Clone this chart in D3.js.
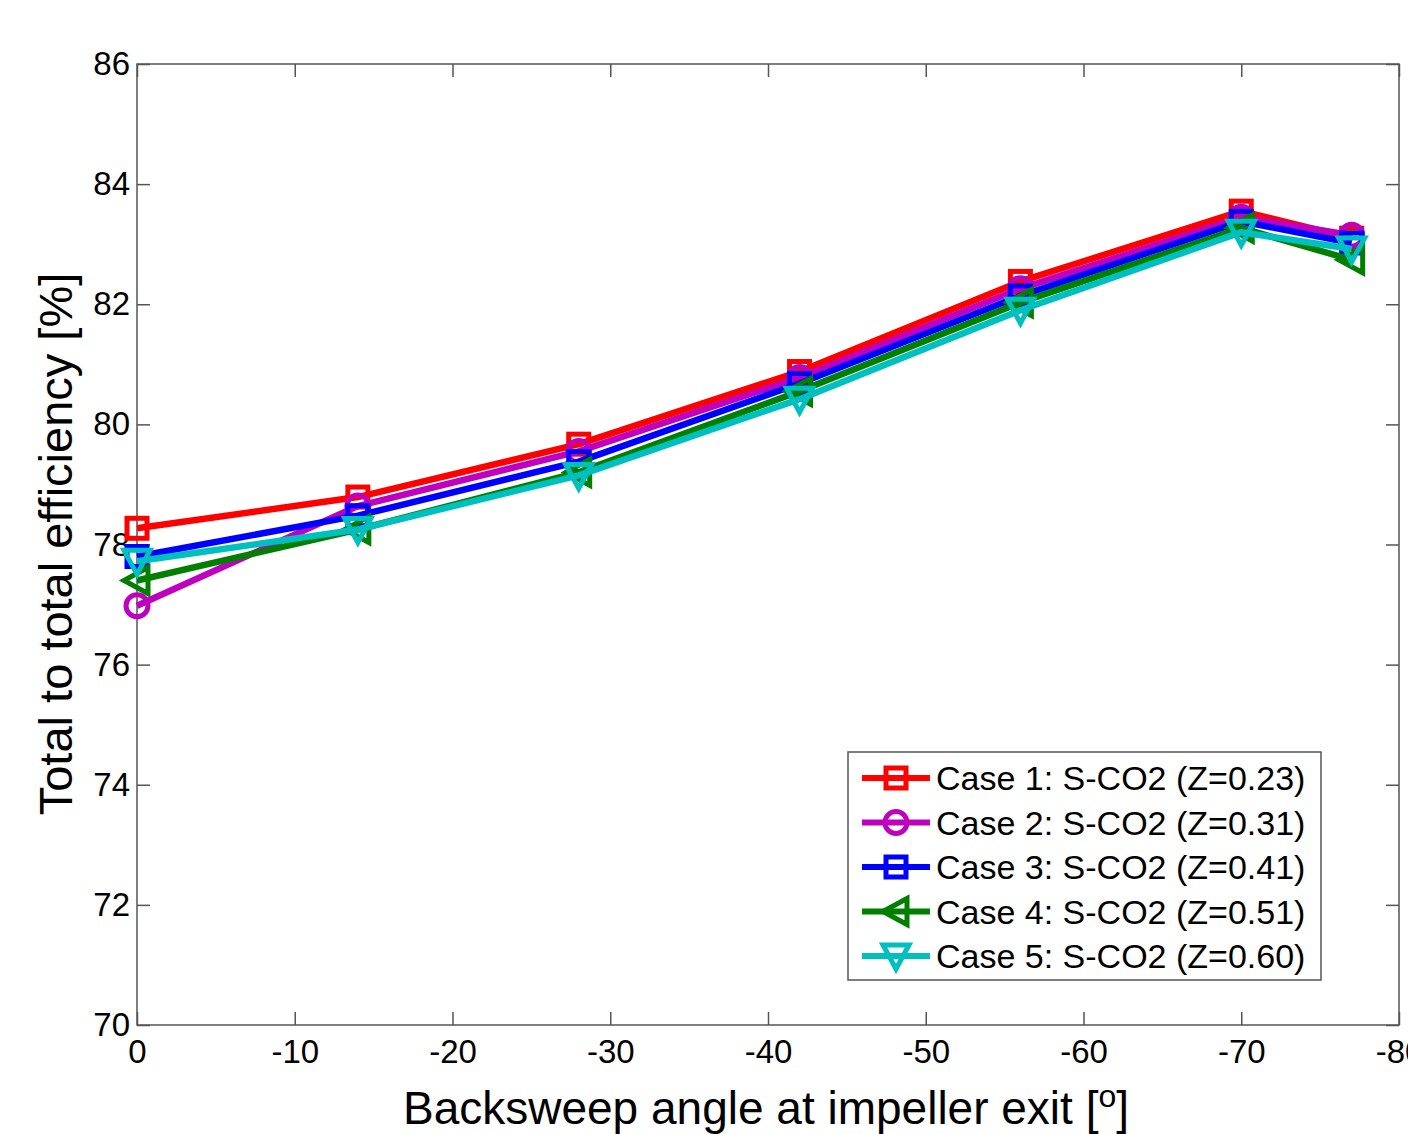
<!DOCTYPE html>
<html>
<head>
<meta charset="utf-8">
<script src="https://cdn.jsdelivr.net/npm/d3@7"></script>
<style>
  body { margin: 0; background: #fff; }
  svg text { font-family: "Liberation Sans", Arial, sans-serif; fill: #000; }
</style>
</head>
<body>
<div id="chart"></div>
<script>
// Data
const angles = [0, -14, -28, -42, -56, -70, -77];
const case1 = [78.27, 78.79, 79.67, 80.88, 82.38, 83.55, 83.1];
const case2 = [76.98, 78.64, 79.55, 80.78, 82.26, 83.45, 83.15];
const case3 = [77.8, 78.48, 79.38, 80.68, 82.14, 83.38, 83.02];
const case4 = [77.4, 78.25, 79.2, 80.55, 82.03, 83.27, 82.74];
const case5 = [77.72, 78.25, 79.15, 80.42, 81.9, 83.2, 82.92];
const seriesNames = ["Case 1: S-CO2 (Z=0.23)", "Case 2: S-CO2 (Z=0.31)", "Case 3: S-CO2 (Z=0.41)",
                     "Case 4: S-CO2 (Z=0.51)", "Case 5: S-CO2 (Z=0.60)"];
const xTicks = [0, -10, -20, -30, -40, -50, -60, -70, -80];
const yTicks = [70, 72, 74, 76, 78, 80, 82, 84, 86];

var W = 1408, H = 1134;
var margin = { top: 64, right: 9, bottom: 109, left: 137 },
    width = W - margin.left - margin.right,
    height = H - margin.top - margin.bottom;

var colors = ["#ff0000", "#bf00bf", "#0000ff", "#007f00", "#00bfbf"];
var shapes = ["square", "circle", "square", "triangleLeft", "triangleDown"];
var allSeries = [case1, case2, case3, case4, case5];

var svg = d3.select("#chart").append("svg")
    .attr("width", W).attr("height", H);
var g = svg.append("g")
    .attr("transform", "translate(" + margin.left + "," + margin.top + ")");

var x = d3.scaleLinear().domain([0, -80]).range([0, width]);
var y = d3.scaleLinear().domain([70, 86]).range([height, 0]);

// box + inward ticks on all four sides
var tickLen = 13;
var plain = d => String(d);   // hyphen, not the unicode minus
function axisStyle(sel) {
    sel.select(".domain").remove();
    sel.selectAll(".tick line").attr("stroke", "#555").attr("stroke-width", 1.5);
    sel.selectAll(".tick text").style("font-size", "33px").attr("font-family", null);
}
g.append("g").attr("transform", "translate(0," + height + ")")
    .call(d3.axisBottom(x).tickValues(xTicks).tickFormat(plain).tickSizeInner(-tickLen).tickSizeOuter(0).tickPadding(15))
    .call(axisStyle);
g.append("g")
    .call(d3.axisTop(x).tickValues(xTicks).tickSizeInner(-tickLen).tickSizeOuter(0).tickFormat(""))
    .call(axisStyle);
g.append("g")
    .call(d3.axisLeft(y).tickValues(yTicks).tickFormat(plain).tickSizeInner(-tickLen).tickSizeOuter(0).tickPadding(7))
    .call(axisStyle);
g.append("g").attr("transform", "translate(" + width + ",0)")
    .call(d3.axisRight(y).tickValues(yTicks).tickSizeInner(-tickLen).tickSizeOuter(0).tickFormat(""))
    .call(axisStyle);

g.append("rect")
    .attr("width", width).attr("height", height)
    .attr("fill", "none").attr("stroke", "#555").attr("stroke-width", 1.5);

// marker drawing
function marker(sel, shape, color) {
    if (shape == "square") {
        sel.append("rect").attr("x", -10).attr("y", -10).attr("width", 20).attr("height", 20)
            .attr("fill", "none").attr("stroke", color).attr("stroke-width", 5);
    } else if (shape == "circle") {
        sel.append("circle").attr("r", 11)
            .attr("fill", "none").attr("stroke", color).attr("stroke-width", 5);
    } else if (shape == "triangleLeft") {
        sel.append("path").attr("d", "M-13,0L11,-13L11,13Z")
            .attr("fill", "none").attr("stroke", color).attr("stroke-width", 5);
    } else {
        sel.append("path").attr("d", "M-13,-11L13,-11L0,13Z")
            .attr("fill", "none").attr("stroke", color).attr("stroke-width", 5);
    }
}

var line = d3.line().x((d, i) => x(angles[i])).y(d => y(d));

allSeries.forEach(function (vals, k) {
    g.append("path")
        .datum(vals)
        .attr("d", line)
        .attr("fill", "none")
        .attr("stroke", colors[k])
        .attr("stroke-width", 6.5)
        .attr("stroke-linejoin", "round");
    vals.forEach(function (v, i) {
        var m = g.append("g").attr("transform", "translate(" + x(angles[i]) + "," + y(v) + ")");
        marker(m, shapes[k], colors[k]);
    });
});

// axis labels
svg.append("text")
    .attr("x", 766).attr("y", 1124)
    .attr("text-anchor", "middle")
    .style("font-size", "46px")
    .html("Backsweep angle at impeller exit [<tspan dy='-17' style='font-size:32px'>o</tspan><tspan dy='17'>]</tspan>");

svg.append("text")
    .attr("transform", "translate(72," + 544 + ") rotate(-90)")
    .attr("text-anchor", "middle")
    .style("font-size", "47px")
    .text("Total to total efficiency [%]");

// legend
var lg = svg.append("g").attr("transform", "translate(848,752)");
lg.append("rect").attr("width", 473).attr("height", 228)
    .attr("fill", "#fff").attr("stroke", "#555").attr("stroke-width", 1.5);
seriesNames.forEach(function (name, k) {
    var row = lg.append("g").attr("transform", "translate(0," + (26 + k * 44.5) + ")");
    row.append("line").attr("x1", 14).attr("x2", 82)
        .attr("stroke", colors[k]).attr("stroke-width", 6);
    var m = row.append("g").attr("transform", "translate(48,0)");
    marker(m, shapes[k], colors[k]);
    row.append("text").attr("x", 88).attr("y", 12)
        .style("font-size", "34px")
        .text(name);
});
</script>
</body>
</html>
